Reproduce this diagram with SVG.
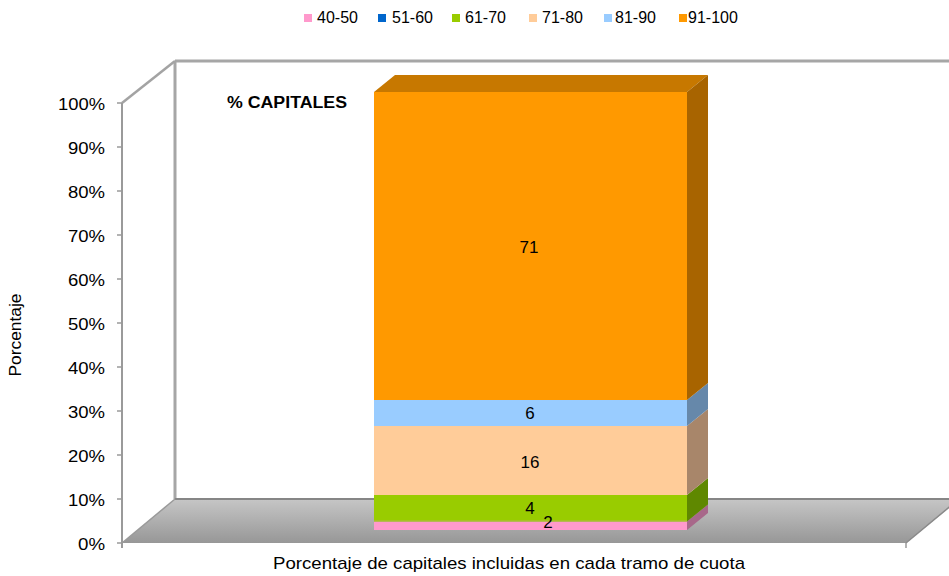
<svg xmlns="http://www.w3.org/2000/svg" width="949" height="576" viewBox="0 0 949 576">
<style>
text{font-family:"Liberation Sans",Arial,sans-serif;fill:#000}
.lg{font-size:16px}
.ax{font-size:16px;text-anchor:end}
.vl{font-size:17px;text-anchor:middle}
.frame{stroke:#a6a6a6;stroke-width:3;fill:none}
.axis{stroke:#9a9a9a;stroke-width:2;fill:none}
</style>
<defs>
<linearGradient id="floorG" x1="0" y1="0" x2="0" y2="1">
<stop offset="0" stop-color="#c6c6c6"/>
<stop offset="1" stop-color="#979797"/>
</linearGradient>
</defs>
<rect width="949" height="576" fill="#fff"/>

<g id="walls">
<line class="frame" x1="175" y1="61" x2="949" y2="61"/>
<line class="frame" x1="175" y1="61" x2="175" y2="499"/>
<line x1="122" y1="103" x2="175" y2="61" stroke="#a3a3a3" stroke-width="2.5"/>
<polygon points="122,543 175,499 960,499 906,543" fill="url(#floorG)"/>
<line x1="175" y1="499" x2="949" y2="499" stroke="#868686" stroke-width="2"/>
<line x1="122" y1="543" x2="175" y2="499" stroke="#9a9a9a" stroke-width="1.5"/>
<line x1="906" y1="543" x2="959" y2="499" stroke="#8a8a8a" stroke-width="1.5"/>
<line x1="906" y1="543" x2="906" y2="548" stroke="#9a9a9a" stroke-width="1.5"/>
</g>

<g id="y-axis">
<line class="axis" x1="122" y1="103" x2="122" y2="548"/>
<g stroke="#9a9a9a" stroke-width="1.5">
<line x1="117" y1="543" x2="122" y2="543"/>
<line x1="117" y1="499" x2="122" y2="499"/>
<line x1="117" y1="455" x2="122" y2="455"/>
<line x1="117" y1="411" x2="122" y2="411"/>
<line x1="117" y1="367" x2="122" y2="367"/>
<line x1="117" y1="323" x2="122" y2="323"/>
<line x1="117" y1="279" x2="122" y2="279"/>
<line x1="117" y1="235" x2="122" y2="235"/>
<line x1="117" y1="191" x2="122" y2="191"/>
<line x1="117" y1="147" x2="122" y2="147"/>
<line x1="117" y1="103" x2="122" y2="103"/>
</g>
<text class="ax" x="105" y="550" textLength="27" lengthAdjust="spacingAndGlyphs">0%</text>
<text class="ax" x="105" y="506" textLength="37" lengthAdjust="spacingAndGlyphs">10%</text>
<text class="ax" x="105" y="462" textLength="37" lengthAdjust="spacingAndGlyphs">20%</text>
<text class="ax" x="105" y="418" textLength="37" lengthAdjust="spacingAndGlyphs">30%</text>
<text class="ax" x="105" y="374" textLength="37" lengthAdjust="spacingAndGlyphs">40%</text>
<text class="ax" x="105" y="330" textLength="37" lengthAdjust="spacingAndGlyphs">50%</text>
<text class="ax" x="105" y="286" textLength="37" lengthAdjust="spacingAndGlyphs">60%</text>
<text class="ax" x="105" y="242" textLength="37" lengthAdjust="spacingAndGlyphs">70%</text>
<text class="ax" x="105" y="198" textLength="37" lengthAdjust="spacingAndGlyphs">80%</text>
<text class="ax" x="105" y="154" textLength="37" lengthAdjust="spacingAndGlyphs">90%</text>
<text class="ax" x="105" y="110" textLength="47" lengthAdjust="spacingAndGlyphs">100%</text>
<text x="21" y="335" font-size="16" text-anchor="middle" transform="rotate(-90 21 335)" textLength="83" lengthAdjust="spacingAndGlyphs">Porcentaje</text>
</g>

<g id="x-axis">
<text x="509" y="569" font-size="17" text-anchor="middle" textLength="472" lengthAdjust="spacingAndGlyphs">Porcentaje de capitales incluidas en cada tramo de cuota</text>
</g>

<g id="bar">
<polygon points="374,92 395,75 708,75 687,92" fill="#c77800"/>
<g id="seg-40-50">
<rect x="374" y="521.5" width="313" height="8.5" fill="#ff99cc"/>
<polygon points="687,521.5 708,504.5 708,513 687,530" fill="#a8688a"/>
</g>
<g id="seg-61-70">
<rect x="374" y="495" width="313" height="26.5" fill="#99cc00"/>
<polygon points="687,495 708,478 708,504.5 687,521.5" fill="#5f8800"/>
<line x1="374" y1="521" x2="687" y2="521" stroke="#b4b44a" stroke-width="1"/>
</g>
<g id="seg-71-80">
<rect x="374" y="426" width="313" height="69" fill="#ffcc99"/>
<polygon points="687,426 708,409 708,478 687,495" fill="#a8866a"/>
</g>
<g id="seg-81-90">
<rect x="374" y="400" width="313" height="26" fill="#99ccff"/>
<polygon points="687,400 708,383 708,409 687,426" fill="#6688aa"/>
</g>
<g id="seg-91-100">
<rect x="374" y="92" width="313" height="308" fill="#ff9900"/>
<polygon points="687,92 708,75 708,383 687,400" fill="#a86400"/>
</g>
<text class="vl" x="529" y="253">71</text>
<text class="vl" x="530" y="419">6</text>
<text class="vl" x="530" y="468">16</text>
<text class="vl" x="530" y="514">4</text>
<text class="vl" x="548" y="528">2</text>
</g>

<g id="title">
<text x="227" y="108" font-size="16" font-weight="bold" textLength="120" lengthAdjust="spacingAndGlyphs">% CAPITALES</text>
</g>

<g id="legend">
<rect x="304" y="14" width="8" height="8" fill="#ff99cc"/>
<text class="lg" x="317" y="23">40-50</text>
<rect x="378" y="14" width="8" height="8" fill="#0066cc"/>
<text class="lg" x="392" y="23">51-60</text>
<rect x="452" y="14" width="8" height="8" fill="#99cc00"/>
<text class="lg" x="465" y="23">61-70</text>
<rect x="529" y="14" width="8" height="8" fill="#ffcc99"/>
<text class="lg" x="542" y="23">71-80</text>
<rect x="604" y="14" width="8" height="8" fill="#99ccff"/>
<text class="lg" x="615" y="23">81-90</text>
<rect x="679" y="14" width="8" height="8" fill="#ff9900"/>
<text class="lg" x="688" y="23">91-100</text>
</g>
</svg>
